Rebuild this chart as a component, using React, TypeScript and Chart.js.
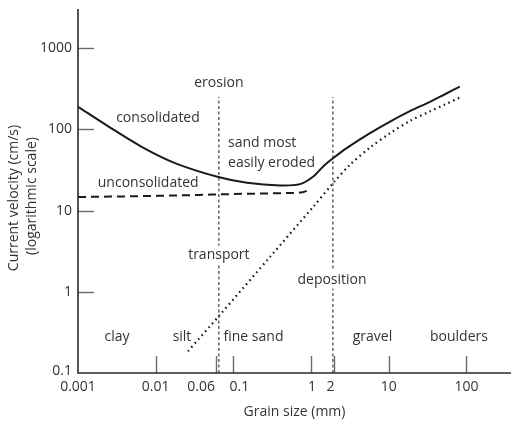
import React, { useEffect, useRef } from "react";
import { Chart, registerables } from "chart.js";

Chart.register(...registerables);

// ---- data (grain size in mm, velocity in cm/s) ----
const consolidatedSize = [0.001, 0.00245, 0.0066, 0.0177, 0.064, 0.15, 0.4, 0.72, 1.07, 1.43, 1.93, 2.87, 5.73, 10.4, 18.7, 33.9, 52.8, 82];
const consolidatedVel = [190, 109, 61, 38.5, 25.9, 22, 20.4, 21.2, 26.3, 35, 44.4, 58.9, 90, 125, 168, 218, 271, 337];

const unconsolidatedSize = [0.001, 0.0108, 0.14, 0.44, 0.72, 0.88, 0.97];
const unconsolidatedVel = [14.7, 15.2, 16.1, 16.4, 16.7, 17.6, 19.5];

const depositionSize = [0.026, 0.067, 0.3, 1.07, 1.93, 3.17, 5.73, 10.4, 18.7, 33.9, 52.8, 82];
const depositionVel = [0.185, 0.52, 2.73, 11.2, 21.9, 36.7, 59.8, 90, 127, 167, 203, 247];

const boundarySize = [0.065, 1.91];
const boundaryVel = [0.1, 250];

const xTickValues = [0.001, 0.01, 0.06, 0.1, 1, 2, 10, 100];
const xTickLabels = ["0.001", "0.01", "0.06", "0.1", "1", "2", "10", "100"];
const yTickValues = [0.1, 1, 10, 100, 1000];
const yTickLabels = ["0.1", "1", "10", "100", "1000"];

const sizeClasses = ["clay", "silt", "fine sand", "gravel", "boulders"];
const sizeClassCentres = [0.00318, 0.0218, 0.1815, 6.17, 80];

const xTitle = "Grain size (mm)";
const yTitle = ["Current velocity (cm/s)", "(logarithmic scale)"];

const FONT = '"Open Sans", "Noto Sans", sans-serif';
const TEXT = "#333333";

const zip = (xs: number[], ys: number[]) => xs.map((v, i) => ({ x: v, y: ys[i] }));

const overlay = {
  id: "overlay",
  afterDatasetsDraw(chart: any) {
    const { ctx, chartArea: ca } = chart;
    const xs = chart.scales.x;
    const ys = chart.scales.y;
    const X = (v: number) => xs.getPixelForValue(v);
    const Y = (v: number) => ys.getPixelForValue(v);
    ctx.save();

    const line = (x1: number, y1: number, x2: number, y2: number) => {
      ctx.beginPath();
      ctx.moveTo(x1, y1);
      ctx.lineTo(x2, y2);
      ctx.stroke();
    };

    // tick marks (inside)
    ctx.strokeStyle = "#6a6a6a";
    ctx.lineWidth = 1.4;
    yTickValues.forEach((v, i) => {
      if (i === 0) return;
      const py = Math.round(Y(v)) + 0.5;
      line(ca.left, py, ca.left + 16, py);
    });
    xTickValues.forEach((v, i) => {
      if (i === 0) return;
      const px = Math.round(X(v)) + 0.5;
      line(px, ca.bottom, px, ca.bottom - 17);
    });

    // axes
    ctx.strokeStyle = "#2a2a2a";
    ctx.lineWidth = 1.6;
    ctx.beginPath();
    ctx.moveTo(ca.left, ca.top);
    ctx.lineTo(ca.left, ca.bottom);
    ctx.lineTo(ca.right, ca.bottom);
    ctx.stroke();

    // tick labels
    ctx.fillStyle = TEXT;
    ctx.font = `14px ${FONT}`;
    ctx.textBaseline = "middle";
    ctx.textAlign = "right";
    yTickValues.forEach((v, i) => {
      const py = i === 0 ? Y(v) - 2 : Y(v);
      ctx.fillText(yTickLabels[i], ca.left - 6, py);
    });
    ctx.textAlign = "center";
    const nudge: Record<string, number> = { "0.06": -15, "0.1": 6, "2": -4, "1": 1 };
    xTickValues.forEach((v, i) => {
      ctx.fillText(xTickLabels[i], X(v) + (nudge[xTickLabels[i]] || 0), ca.bottom + 14);
    });

    // axis titles
    ctx.fillText(xTitle, (ca.left + ca.right) / 2 + 0, ca.bottom + 39);
    ctx.save();
    ctx.translate(14, 198);
    ctx.rotate(-Math.PI / 2);
    ctx.fillText(yTitle[0], 0, 0);
    ctx.restore();
    ctx.save();
    ctx.translate(32, 196);
    ctx.rotate(-Math.PI / 2);
    ctx.fillText(yTitle[1], 0, 0);
    ctx.restore();

    // annotations
    const label = (t: string, px: number, py: number, align: CanvasTextAlign = "center", bg = false) => {
      ctx.textAlign = align;
      if (bg) {
        const w = ctx.measureText(t).width;
        const left = align === "center" ? px - w / 2 : px;
        ctx.fillStyle = "#ffffff";
        ctx.fillRect(left - 2, py - 9, w + 4, 18);
      }
      ctx.fillStyle = TEXT;
      ctx.fillText(t, px, py);
    };
    ctx.font = `14px ${FONT}`;
    label("erosion", X(0.065), Y(374));
    label("consolidated", X(0.0107), Y(139));
    label("unconsolidated", X(0.008), Y(22));
    label("sand most", X(0.0853), Y(68), "left");
    label("easily eroded", X(0.0853), Y(38.8), "left");
    label("transport", X(0.065), Y(2.87), "center", true);
    label("deposition", X(1.86), Y(1.41), "center", true);
    sizeClasses.forEach((t, i) => label(t, X(sizeClassCentres[i]), Y(0.281)));

    ctx.restore();
  },
};

export default function App() {
  const ref = useRef<HTMLCanvasElement | null>(null);
  useEffect(() => {
    if (!ref.current) return;
    const chart = new Chart(ref.current, {
      type: "line",
      data: {
        datasets: [
          {
            label: "consolidated",
            data: zip(consolidatedSize, consolidatedVel),
            borderColor: "#1a1a1a",
            borderWidth: 2,
            pointRadius: 0,
            tension: 0.3,
          },
          {
            label: "unconsolidated",
            data: zip(unconsolidatedSize, unconsolidatedVel),
            borderColor: "#1a1a1a",
            borderWidth: 2,
            borderDash: [8, 5],
            pointRadius: 0,
            cubicInterpolationMode: "monotone",
          },
          {
            label: "deposition",
            data: zip(depositionSize, depositionVel),
            borderColor: "#1a1a1a",
            borderWidth: 2.2,
            borderDash: [1.6, 3.6],
            pointRadius: 0,
            tension: 0.3,
          },
          {
            label: "erosion boundary",
            data: zip([boundarySize[0], boundarySize[0]], boundaryVel),
            borderColor: "#1a1a1a",
            borderWidth: 1,
            borderDash: [3, 2.5],
            pointRadius: 0,
          },
          {
            label: "deposition boundary",
            data: zip([boundarySize[1], boundarySize[1]], boundaryVel),
            borderColor: "#1a1a1a",
            borderWidth: 1,
            borderDash: [3, 2.5],
            pointRadius: 0,
          },
        ],
      },
      options: {
        animation: false,
        responsive: false,
        layout: { padding: { left: 78, top: 9, right: 0, bottom: 48 } },
        plugins: { legend: { display: false }, tooltip: { enabled: false } },
        scales: {
          x: { type: "logarithmic", min: 0.001, max: 374, display: false },
          y: { type: "logarithmic", min: 0.1, max: 3040, display: false },
        },
      },
      plugins: [overlay],
    });
    return () => chart.destroy();
  }, []);
  return (
    <div style={{ position: "fixed", left: 0, top: 0, width: 511, height: 421, background: "#fff" }}>
      <canvas ref={ref} width={511} height={421} style={{ display: "block", width: 511, height: 421 }} />
    </div>
  );
}
